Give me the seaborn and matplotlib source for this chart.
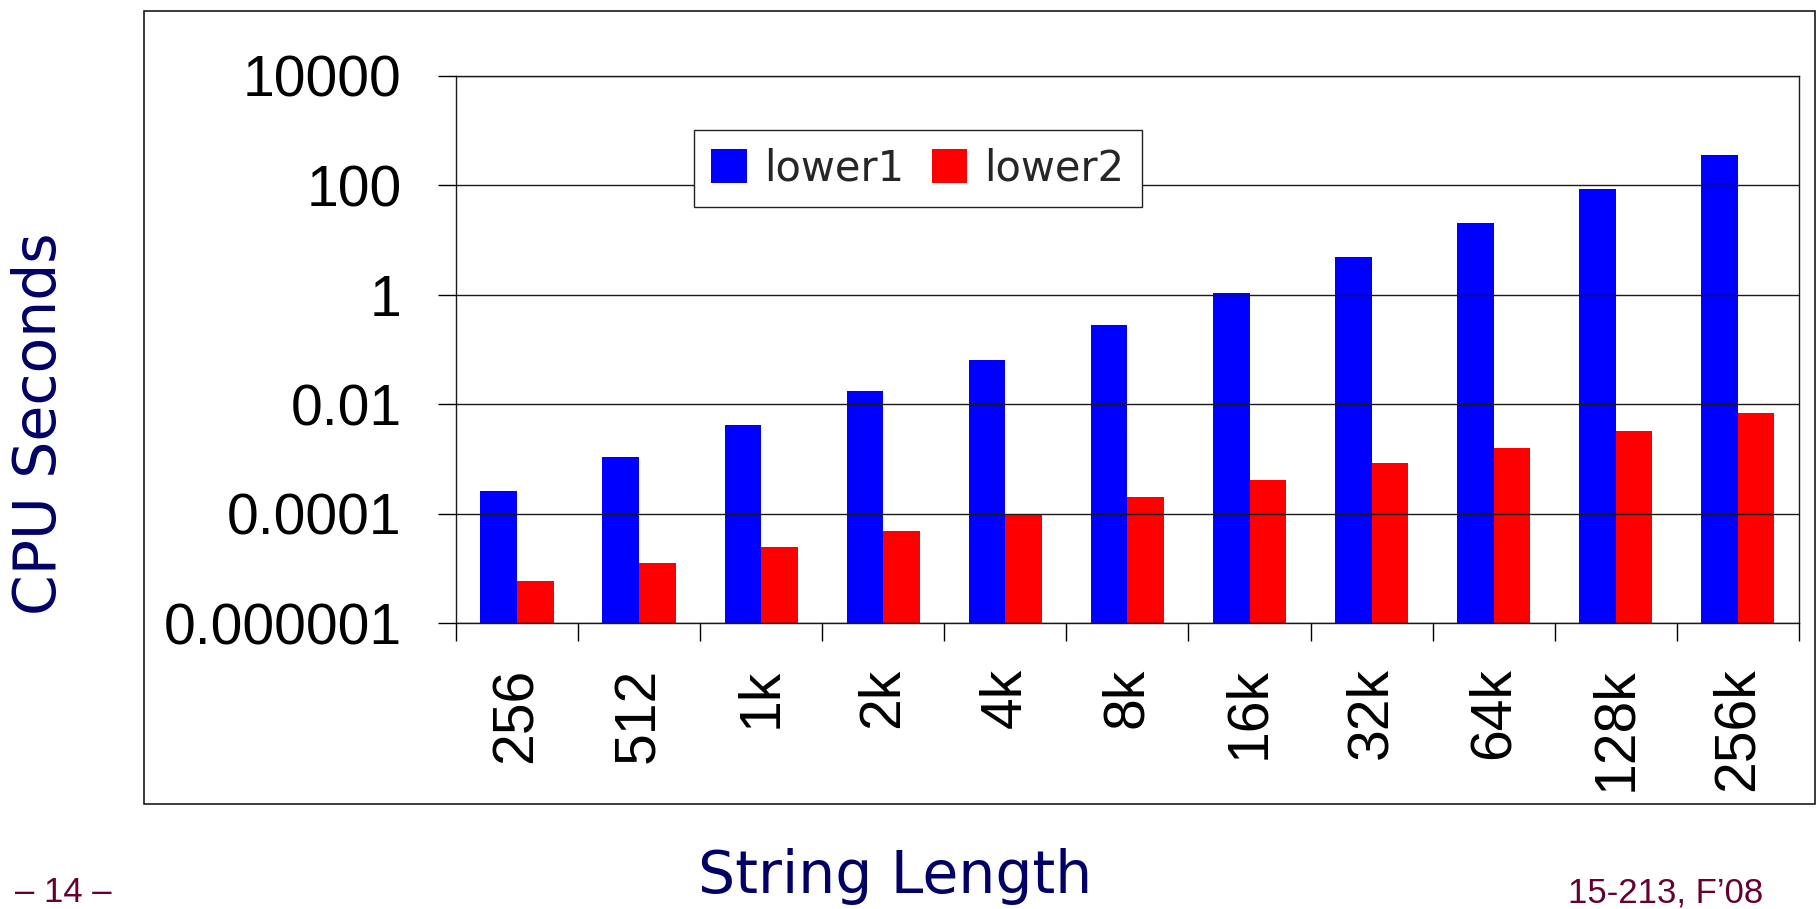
#!/usr/bin/env python3
"""CPU time of lower1 vs lower2 by string length (log scale)."""

import matplotlib
matplotlib.use("Agg")
import matplotlib.pyplot as plt
from matplotlib.patches import Rectangle
import numpy as np
import pandas as pd
import seaborn as sns

lengths = ["256", "512", "1k", "2k", "4k", "8k", "16k", "32k", "64k", "128k", "256k"]
lower1 = [2.6e-4, 1.07e-3, 4.1e-3, 1.7e-2, 6.5e-2, 0.277, 1.07, 4.8, 20.3, 85, 355]
lower2 = [5.9e-6, 1.25e-5, 2.4e-5, 4.8e-5, 9.4e-5, 2.0e-4, 4.1e-4, 8.3e-4, 1.6e-3, 3.2e-3, 6.9e-3]
ytick_values = [1e-6, 1e-4, 1e-2, 1, 100, 10000]
ytick_labels = ["0.000001", "0.0001", "0.01", "1", "100", "10000"]

label_font = "DejaVu Sans"
navy = "#000066"
maroon = "#660033"


def main() -> int:
    sns.set_theme(style="white")
    plt.rcParams["font.family"] = ["Liberation Sans", "DejaVu Sans"]

    df = pd.DataFrame({
        "length": lengths * 2,
        "seconds": lower1 + lower2,
        "series": ["lower1"] * len(lengths) + ["lower2"] * len(lengths),
    })

    fig = plt.figure(figsize=(18.18, 9.09), dpi=100)
    ax = fig.add_axes([0.2508, 0.3146, 0.7387, 0.6023])

    sns.barplot(data=df, x="length", y="seconds", hue="series", order=lengths,
                palette={"lower1": "#0000ff", "lower2": "#ff0000"},
                width=0.6, saturation=1, linewidth=0, ax=ax)
    ax.set_yscale("log")
    ax.set_ylim(1e-6, 1e4)
    ax.set_xlim(-0.5, len(lengths) - 0.5)

    # y axis
    ax.set_yticks(ytick_values)
    ax.set_yticklabels(ytick_labels)
    ax.yaxis.set_minor_locator(matplotlib.ticker.NullLocator())
    ax.tick_params(axis="y", which="major", direction="out", length=13, width=1,
                   color="black", left=True, pad=26, labelsize=41, labelcolor="black")
    ax.grid(axis="y", color="#1a1a1a", linewidth=1.0)
    ax.set_axisbelow(False)

    # x axis: marks between categories, labels at centres
    ax.set_xticks(np.arange(-0.5, len(lengths), 1.0))
    ax.set_xticklabels([""] * (len(lengths) + 1))
    ax.set_xticks(range(len(lengths)), minor=True)
    ax.set_xticklabels(lengths, minor=True, rotation=90, va="top", ha="center")
    ax.tick_params(axis="x", which="major", direction="out", length=13, width=1,
                   color="black", bottom=True)
    ax.tick_params(axis="x", which="minor", length=0, pad=32, labelsize=41,
                   labelcolor="black")
    ax.set_xlabel("")
    ax.set_ylabel("")

    for side in ["left", "right", "top", "bottom"]:
        ax.spines[side].set_visible(True)
        ax.spines[side].set_color("#1a1a1a")
        ax.spines[side].set_linewidth(1.0)

    sns.move_legend(ax, "lower left", bbox_to_anchor=(0.3817, 0.7723),
                    bbox_transform=fig.transFigure, ncol=2, title=None,
                    frameon=True, fancybox=False, framealpha=1, edgecolor="#222222",
                    borderaxespad=0, borderpad=0.42, handlelength=0.85,
                    handleheight=0.85, handletextpad=0.42, columnspacing=0.65,
                    prop={"family": label_font, "size": 30})
    ax.get_legend().get_frame().set_linewidth(1.0)

    # outer chart frame
    fig.add_artist(Rectangle((0.0792, 0.1155), 0.9191, 0.8724, transform=fig.transFigure,
                             fill=False, edgecolor="#1a1a1a", linewidth=1.2))

    fig.text(0.0215, 0.5336, "CPU Seconds", rotation=90, ha="center", va="center",
             color=navy, fontsize=42, family=label_font)
    fig.text(0.4923, 0.0176, "String Length", ha="center", va="baseline",
             color=navy, fontsize=42, family=label_font)

    # slide footer, kept just inside the bottom edge
    fig.text(0.008, 0.0077, "\u2013 14 \u2013", ha="left", va="baseline",
             color=maroon, fontsize=25)
    fig.text(0.9697, 0.0077, "15-213, F\u201908", ha="right", va="baseline",
             color=maroon, fontsize=25)

    fig.savefig("out.png", dpi=100)
    plt.close(fig)
    return 0


if __name__ == "__main__":
    raise SystemExit(main())
